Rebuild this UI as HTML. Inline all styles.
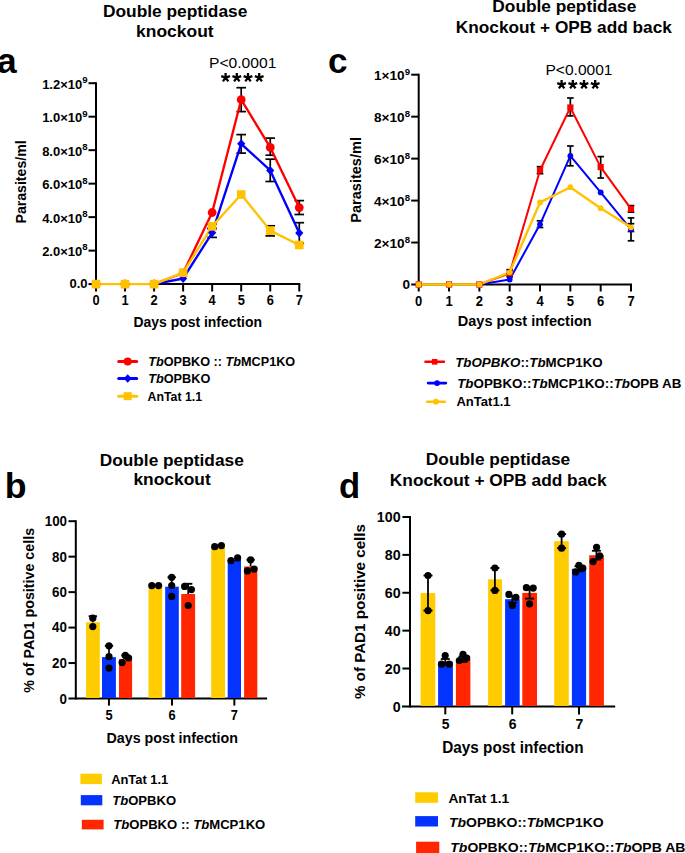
<!DOCTYPE html>
<html><head><meta charset="utf-8"><title>Figure</title>
<style>
html,body{margin:0;padding:0;background:#fff;}
body{width:685px;height:853px;overflow:hidden;}
svg{display:block;font-family:"Liberation Sans",sans-serif;}
</style></head>
<body>
<svg width="685" height="853" viewBox="0 0 685 853">
<rect width="685" height="853" fill="#fff"/>
<line x1="96.00" y1="82.20" x2="96.00" y2="285.10" stroke="#000" stroke-width="2" stroke-linecap="butt"/>
<line x1="95.00" y1="284.10" x2="300.28" y2="284.10" stroke="#000" stroke-width="2" stroke-linecap="butt"/>
<line x1="88.50" y1="284.10" x2="96.00" y2="284.10" stroke="#000" stroke-width="2" stroke-linecap="butt"/>
<line x1="88.50" y1="250.62" x2="96.00" y2="250.62" stroke="#000" stroke-width="2" stroke-linecap="butt"/>
<line x1="88.50" y1="217.13" x2="96.00" y2="217.13" stroke="#000" stroke-width="2" stroke-linecap="butt"/>
<line x1="88.50" y1="183.65" x2="96.00" y2="183.65" stroke="#000" stroke-width="2" stroke-linecap="butt"/>
<line x1="88.50" y1="150.17" x2="96.00" y2="150.17" stroke="#000" stroke-width="2" stroke-linecap="butt"/>
<line x1="88.50" y1="116.68" x2="96.00" y2="116.68" stroke="#000" stroke-width="2" stroke-linecap="butt"/>
<line x1="88.50" y1="83.20" x2="96.00" y2="83.20" stroke="#000" stroke-width="2" stroke-linecap="butt"/>
<line x1="96.00" y1="284.10" x2="96.00" y2="291.50" stroke="#000" stroke-width="2" stroke-linecap="butt"/>
<line x1="125.04" y1="284.10" x2="125.04" y2="291.50" stroke="#000" stroke-width="2" stroke-linecap="butt"/>
<line x1="154.08" y1="284.10" x2="154.08" y2="291.50" stroke="#000" stroke-width="2" stroke-linecap="butt"/>
<line x1="183.12" y1="284.10" x2="183.12" y2="291.50" stroke="#000" stroke-width="2" stroke-linecap="butt"/>
<line x1="212.16" y1="284.10" x2="212.16" y2="291.50" stroke="#000" stroke-width="2" stroke-linecap="butt"/>
<line x1="241.20" y1="284.10" x2="241.20" y2="291.50" stroke="#000" stroke-width="2" stroke-linecap="butt"/>
<line x1="270.24" y1="284.10" x2="270.24" y2="291.50" stroke="#000" stroke-width="2" stroke-linecap="butt"/>
<line x1="299.28" y1="284.10" x2="299.28" y2="291.50" stroke="#000" stroke-width="2" stroke-linecap="butt"/>
<text x="87.60" y="288.40" font-size="13" font-weight="bold" text-anchor="end" >0.0</text>
<text x="87.60" y="256.07" font-size="13" font-weight="bold" text-anchor="end" >2.0×10<tspan dy='-5.6' font-size='9.6'>8</tspan></text>
<text x="87.60" y="222.58" font-size="13" font-weight="bold" text-anchor="end" >4.0×10<tspan dy='-5.6' font-size='9.6'>8</tspan></text>
<text x="87.60" y="189.10" font-size="13" font-weight="bold" text-anchor="end" >6.0×10<tspan dy='-5.6' font-size='9.6'>8</tspan></text>
<text x="87.60" y="155.62" font-size="13" font-weight="bold" text-anchor="end" >8.0×10<tspan dy='-5.6' font-size='9.6'>8</tspan></text>
<text x="87.60" y="122.13" font-size="13" font-weight="bold" text-anchor="end" >1.0×10<tspan dy='-5.6' font-size='9.6'>9</tspan></text>
<text x="87.60" y="88.65" font-size="13" font-weight="bold" text-anchor="end" >1.2×10<tspan dy='-5.6' font-size='9.6'>9</tspan></text>
<text transform="translate(96.00,304.70) scale(0.93,1)" font-size="13.8" font-weight="bold" text-anchor="middle" >0</text>
<text transform="translate(125.04,304.70) scale(0.93,1)" font-size="13.8" font-weight="bold" text-anchor="middle" >1</text>
<text transform="translate(154.08,304.70) scale(0.93,1)" font-size="13.8" font-weight="bold" text-anchor="middle" >2</text>
<text transform="translate(183.12,304.70) scale(0.93,1)" font-size="13.8" font-weight="bold" text-anchor="middle" >3</text>
<text transform="translate(212.16,304.70) scale(0.93,1)" font-size="13.8" font-weight="bold" text-anchor="middle" >4</text>
<text transform="translate(241.20,304.70) scale(0.93,1)" font-size="13.8" font-weight="bold" text-anchor="middle" >5</text>
<text transform="translate(270.24,304.70) scale(0.93,1)" font-size="13.8" font-weight="bold" text-anchor="middle" >6</text>
<text transform="translate(299.28,304.70) scale(0.93,1)" font-size="13.8" font-weight="bold" text-anchor="middle" >7</text>
<text transform="translate(133.53,326.90) scale(0.9746,1)" font-size="14.3" font-weight="bold">Days post infection</text>
<text transform="translate(26.20,223.51) rotate(-90) scale(1.0087,1)" font-size="14" font-weight="bold">Parasites/ml</text>
<line x1="241.20" y1="87.70" x2="241.20" y2="111.60" stroke="#000" stroke-width="1.7" stroke-linecap="butt"/>
<line x1="236.40" y1="87.70" x2="246.00" y2="87.70" stroke="#000" stroke-width="1.7" stroke-linecap="butt"/>
<line x1="236.40" y1="111.60" x2="246.00" y2="111.60" stroke="#000" stroke-width="1.7" stroke-linecap="butt"/>
<line x1="270.24" y1="138.10" x2="270.24" y2="155.20" stroke="#000" stroke-width="1.7" stroke-linecap="butt"/>
<line x1="265.44" y1="138.10" x2="275.04" y2="138.10" stroke="#000" stroke-width="1.7" stroke-linecap="butt"/>
<line x1="265.44" y1="155.20" x2="275.04" y2="155.20" stroke="#000" stroke-width="1.7" stroke-linecap="butt"/>
<line x1="299.28" y1="200.60" x2="299.28" y2="214.50" stroke="#000" stroke-width="1.7" stroke-linecap="butt"/>
<line x1="294.48" y1="200.60" x2="304.08" y2="200.60" stroke="#000" stroke-width="1.7" stroke-linecap="butt"/>
<line x1="294.48" y1="214.50" x2="304.08" y2="214.50" stroke="#000" stroke-width="1.7" stroke-linecap="butt"/>
<line x1="241.20" y1="134.60" x2="241.20" y2="153.10" stroke="#000" stroke-width="1.7" stroke-linecap="butt"/>
<line x1="236.40" y1="134.60" x2="246.00" y2="134.60" stroke="#000" stroke-width="1.7" stroke-linecap="butt"/>
<line x1="236.40" y1="153.10" x2="246.00" y2="153.10" stroke="#000" stroke-width="1.7" stroke-linecap="butt"/>
<line x1="270.24" y1="159.20" x2="270.24" y2="181.50" stroke="#000" stroke-width="1.7" stroke-linecap="butt"/>
<line x1="265.44" y1="159.20" x2="275.04" y2="159.20" stroke="#000" stroke-width="1.7" stroke-linecap="butt"/>
<line x1="265.44" y1="181.50" x2="275.04" y2="181.50" stroke="#000" stroke-width="1.7" stroke-linecap="butt"/>
<line x1="299.28" y1="222.70" x2="299.28" y2="243.40" stroke="#000" stroke-width="1.7" stroke-linecap="butt"/>
<line x1="294.48" y1="222.70" x2="304.08" y2="222.70" stroke="#000" stroke-width="1.7" stroke-linecap="butt"/>
<line x1="294.48" y1="243.40" x2="304.08" y2="243.40" stroke="#000" stroke-width="1.7" stroke-linecap="butt"/>
<line x1="212.16" y1="228.20" x2="212.16" y2="237.40" stroke="#000" stroke-width="1.7" stroke-linecap="butt"/>
<line x1="207.36" y1="228.20" x2="216.96" y2="228.20" stroke="#000" stroke-width="1.7" stroke-linecap="butt"/>
<line x1="207.36" y1="237.40" x2="216.96" y2="237.40" stroke="#000" stroke-width="1.7" stroke-linecap="butt"/>
<line x1="270.24" y1="225.80" x2="270.24" y2="235.90" stroke="#000" stroke-width="1.7" stroke-linecap="butt"/>
<line x1="265.44" y1="225.80" x2="275.04" y2="225.80" stroke="#000" stroke-width="1.7" stroke-linecap="butt"/>
<line x1="265.44" y1="235.90" x2="275.04" y2="235.90" stroke="#000" stroke-width="1.7" stroke-linecap="butt"/>
<line x1="212.16" y1="224.00" x2="212.16" y2="228.90" stroke="#000" stroke-width="1.7" stroke-linecap="butt"/>
<line x1="207.36" y1="224.00" x2="216.96" y2="224.00" stroke="#000" stroke-width="1.7" stroke-linecap="butt"/>
<line x1="207.36" y1="228.90" x2="216.96" y2="228.90" stroke="#000" stroke-width="1.7" stroke-linecap="butt"/>
<polyline points="154.08,284.10 183.12,278.50 212.16,232.80 241.20,143.80 270.24,170.40 299.28,233.00" fill="none" stroke="#0000ff" stroke-width="2.35" stroke-linejoin="round"/>
<polyline points="154.08,284.10 183.12,273.00 212.16,212.50 241.20,99.70 270.24,147.40 299.28,207.60" fill="none" stroke="#ff0000" stroke-width="2.35" stroke-linejoin="round"/>
<polyline points="96.00,284.10 125.04,284.10 154.08,284.10 183.12,272.70 212.16,226.40 241.20,194.50 270.24,230.60 299.28,245.00" fill="none" stroke="#ffc200" stroke-width="2.35" stroke-linejoin="round"/>
<polygon points="96.00,279.60 100.10,284.10 96.00,288.60 91.90,284.10" fill="#0000ff"/>
<polygon points="125.04,279.60 129.14,284.10 125.04,288.60 120.94,284.10" fill="#0000ff"/>
<polygon points="154.08,279.60 158.18,284.10 154.08,288.60 149.98,284.10" fill="#0000ff"/>
<polygon points="183.12,274.00 187.22,278.50 183.12,283.00 179.02,278.50" fill="#0000ff"/>
<polygon points="212.16,228.30 216.26,232.80 212.16,237.30 208.06,232.80" fill="#0000ff"/>
<polygon points="241.20,139.30 245.30,143.80 241.20,148.30 237.10,143.80" fill="#0000ff"/>
<polygon points="270.24,165.90 274.34,170.40 270.24,174.90 266.14,170.40" fill="#0000ff"/>
<polygon points="299.28,228.50 303.38,233.00 299.28,237.50 295.18,233.00" fill="#0000ff"/>
<circle cx="96.00" cy="284.10" r="4.4" fill="#ff0000"/>
<circle cx="125.04" cy="284.10" r="4.4" fill="#ff0000"/>
<circle cx="154.08" cy="284.10" r="4.4" fill="#ff0000"/>
<circle cx="183.12" cy="273.00" r="4.4" fill="#ff0000"/>
<circle cx="212.16" cy="212.50" r="4.4" fill="#ff0000"/>
<circle cx="241.20" cy="99.70" r="4.4" fill="#ff0000"/>
<circle cx="270.24" cy="147.40" r="4.4" fill="#ff0000"/>
<circle cx="299.28" cy="207.60" r="4.4" fill="#ff0000"/>
<rect x="91.70" y="279.80" width="8.6" height="8.6" fill="#ffc200"/>
<rect x="120.74" y="279.80" width="8.6" height="8.6" fill="#ffc200"/>
<rect x="149.78" y="279.80" width="8.6" height="8.6" fill="#ffc200"/>
<rect x="178.82" y="268.40" width="8.6" height="8.6" fill="#ffc200"/>
<rect x="207.86" y="222.10" width="8.6" height="8.6" fill="#ffc200"/>
<rect x="236.90" y="190.20" width="8.6" height="8.6" fill="#ffc200"/>
<rect x="265.94" y="226.30" width="8.6" height="8.6" fill="#ffc200"/>
<rect x="294.98" y="240.70" width="8.6" height="8.6" fill="#ffc200"/>
<text transform="translate(208.96,68.20) scale(1.0721,1)" font-size="14.6" font-weight="normal">P&lt;0.0001</text>
<path d="M225.60,77.60L225.60,73.00 M225.60,77.60L221.23,76.18 M225.60,77.60L222.90,81.32 M225.60,77.60L228.30,81.32 M225.60,77.60L229.97,76.18 M236.80,77.60L236.80,73.00 M236.80,77.60L232.43,76.18 M236.80,77.60L234.10,81.32 M236.80,77.60L239.50,81.32 M236.80,77.60L241.17,76.18 M248.00,77.60L248.00,73.00 M248.00,77.60L243.63,76.18 M248.00,77.60L245.30,81.32 M248.00,77.60L250.70,81.32 M248.00,77.60L252.37,76.18 M259.20,77.60L259.20,73.00 M259.20,77.60L254.83,76.18 M259.20,77.60L256.50,81.32 M259.20,77.60L261.90,81.32 M259.20,77.60L263.57,76.18" stroke="#000" stroke-width="2.3" fill="none" stroke-linecap="butt"/>
<line x1="118.70" y1="361.40" x2="136.70" y2="361.40" stroke="#ff0000" stroke-width="3" stroke-linecap="round"/>
<circle cx="127.70" cy="361.40" r="4.0" fill="#ff0000"/>
<line x1="118.70" y1="378.50" x2="136.70" y2="378.50" stroke="#0000ff" stroke-width="3" stroke-linecap="round"/>
<polygon points="127.70,374.20 131.70,378.50 127.70,382.80 123.70,378.50" fill="#0000ff"/>
<line x1="118.70" y1="396.20" x2="136.70" y2="396.20" stroke="#ffc200" stroke-width="3" stroke-linecap="round"/>
<rect x="123.70" y="392.20" width="8" height="8" fill="#ffc200"/>
<text transform="translate(148.23,365.80) scale(0.9973,1)" font-size="12.7" font-weight="bold"><tspan font-style='italic'>Tb</tspan>OPBKO :: <tspan font-style='italic'>Tb</tspan>MCP1KO</text>
<text transform="translate(148.22,382.50) scale(1.0012,1)" font-size="12.7" font-weight="bold"><tspan font-style='italic'>Tb</tspan>OPBKO</text>
<text transform="translate(147.54,401.20) scale(0.9694,1)" font-size="12.7" font-weight="bold">AnTat 1.1</text>
<text transform="translate(102.95,17.05) scale(1.0200,1)" font-size="17" font-weight="bold">Double peptidase</text>
<text transform="translate(136.02,37.20) scale(1.0280,1)" font-size="17" font-weight="bold">knockout</text>
<text transform="translate(-3.00,73.05) scale(1.0013,1)" font-size="35.3" font-weight="bold">a</text>
<line x1="418.70" y1="73.70" x2="418.70" y2="285.50" stroke="#000" stroke-width="2" stroke-linecap="butt"/>
<line x1="417.70" y1="284.50" x2="632.01" y2="284.50" stroke="#000" stroke-width="2" stroke-linecap="butt"/>
<line x1="411.20" y1="284.50" x2="418.70" y2="284.50" stroke="#000" stroke-width="2" stroke-linecap="butt"/>
<line x1="411.20" y1="242.54" x2="418.70" y2="242.54" stroke="#000" stroke-width="2" stroke-linecap="butt"/>
<line x1="411.20" y1="200.58" x2="418.70" y2="200.58" stroke="#000" stroke-width="2" stroke-linecap="butt"/>
<line x1="411.20" y1="158.62" x2="418.70" y2="158.62" stroke="#000" stroke-width="2" stroke-linecap="butt"/>
<line x1="411.20" y1="116.66" x2="418.70" y2="116.66" stroke="#000" stroke-width="2" stroke-linecap="butt"/>
<line x1="411.20" y1="74.70" x2="418.70" y2="74.70" stroke="#000" stroke-width="2" stroke-linecap="butt"/>
<line x1="418.70" y1="284.50" x2="418.70" y2="291.50" stroke="#000" stroke-width="2" stroke-linecap="butt"/>
<line x1="449.03" y1="284.50" x2="449.03" y2="291.50" stroke="#000" stroke-width="2" stroke-linecap="butt"/>
<line x1="479.36" y1="284.50" x2="479.36" y2="291.50" stroke="#000" stroke-width="2" stroke-linecap="butt"/>
<line x1="509.69" y1="284.50" x2="509.69" y2="291.50" stroke="#000" stroke-width="2" stroke-linecap="butt"/>
<line x1="540.02" y1="284.50" x2="540.02" y2="291.50" stroke="#000" stroke-width="2" stroke-linecap="butt"/>
<line x1="570.35" y1="284.50" x2="570.35" y2="291.50" stroke="#000" stroke-width="2" stroke-linecap="butt"/>
<line x1="600.68" y1="284.50" x2="600.68" y2="291.50" stroke="#000" stroke-width="2" stroke-linecap="butt"/>
<line x1="631.01" y1="284.50" x2="631.01" y2="291.50" stroke="#000" stroke-width="2" stroke-linecap="butt"/>
<text x="410.00" y="289.10" font-size="13.6" font-weight="bold" text-anchor="end" >0</text>
<text x="410.00" y="248.14" font-size="13.6" font-weight="bold" text-anchor="end" >2×10<tspan dy='-5.6' font-size='9.6'>8</tspan></text>
<text x="410.00" y="206.18" font-size="13.6" font-weight="bold" text-anchor="end" >4×10<tspan dy='-5.6' font-size='9.6'>8</tspan></text>
<text x="410.00" y="164.22" font-size="13.6" font-weight="bold" text-anchor="end" >6×10<tspan dy='-5.6' font-size='9.6'>8</tspan></text>
<text x="410.00" y="122.26" font-size="13.6" font-weight="bold" text-anchor="end" >8×10<tspan dy='-5.6' font-size='9.6'>8</tspan></text>
<text x="410.00" y="80.30" font-size="13.6" font-weight="bold" text-anchor="end" >1×10<tspan dy='-5.6' font-size='9.6'>9</tspan></text>
<text transform="translate(418.70,305.80) scale(0.93,1)" font-size="14" font-weight="bold" text-anchor="middle" >0</text>
<text transform="translate(449.03,305.80) scale(0.93,1)" font-size="14" font-weight="bold" text-anchor="middle" >1</text>
<text transform="translate(479.36,305.80) scale(0.93,1)" font-size="14" font-weight="bold" text-anchor="middle" >2</text>
<text transform="translate(509.69,305.80) scale(0.93,1)" font-size="14" font-weight="bold" text-anchor="middle" >3</text>
<text transform="translate(540.02,305.80) scale(0.93,1)" font-size="14" font-weight="bold" text-anchor="middle" >4</text>
<text transform="translate(570.35,305.80) scale(0.93,1)" font-size="14" font-weight="bold" text-anchor="middle" >5</text>
<text transform="translate(600.68,305.80) scale(0.93,1)" font-size="14" font-weight="bold" text-anchor="middle" >6</text>
<text transform="translate(631.01,305.80) scale(0.93,1)" font-size="14" font-weight="bold" text-anchor="middle" >7</text>
<text transform="translate(457.78,326.20) scale(1.0154,1)" font-size="14.3" font-weight="bold">Days post infection</text>
<text transform="translate(361.30,222.74) rotate(-90) scale(1.0398,1)" font-size="14" font-weight="bold">Parasites/ml</text>
<line x1="509.69" y1="269.70" x2="509.69" y2="276.90" stroke="#000" stroke-width="1.7" stroke-linecap="butt"/>
<line x1="506.39" y1="269.70" x2="512.99" y2="269.70" stroke="#000" stroke-width="1.7" stroke-linecap="butt"/>
<line x1="506.39" y1="276.90" x2="512.99" y2="276.90" stroke="#000" stroke-width="1.7" stroke-linecap="butt"/>
<line x1="540.02" y1="166.70" x2="540.02" y2="173.70" stroke="#000" stroke-width="1.7" stroke-linecap="butt"/>
<line x1="536.72" y1="166.70" x2="543.32" y2="166.70" stroke="#000" stroke-width="1.7" stroke-linecap="butt"/>
<line x1="536.72" y1="173.70" x2="543.32" y2="173.70" stroke="#000" stroke-width="1.7" stroke-linecap="butt"/>
<line x1="570.35" y1="98.00" x2="570.35" y2="115.90" stroke="#000" stroke-width="1.7" stroke-linecap="butt"/>
<line x1="567.05" y1="98.00" x2="573.65" y2="98.00" stroke="#000" stroke-width="1.7" stroke-linecap="butt"/>
<line x1="567.05" y1="115.90" x2="573.65" y2="115.90" stroke="#000" stroke-width="1.7" stroke-linecap="butt"/>
<line x1="600.68" y1="156.60" x2="600.68" y2="178.00" stroke="#000" stroke-width="1.7" stroke-linecap="butt"/>
<line x1="597.38" y1="156.60" x2="603.98" y2="156.60" stroke="#000" stroke-width="1.7" stroke-linecap="butt"/>
<line x1="597.38" y1="178.00" x2="603.98" y2="178.00" stroke="#000" stroke-width="1.7" stroke-linecap="butt"/>
<line x1="631.01" y1="205.60" x2="631.01" y2="212.10" stroke="#000" stroke-width="1.7" stroke-linecap="butt"/>
<line x1="627.71" y1="205.60" x2="634.31" y2="205.60" stroke="#000" stroke-width="1.7" stroke-linecap="butt"/>
<line x1="627.71" y1="212.10" x2="634.31" y2="212.10" stroke="#000" stroke-width="1.7" stroke-linecap="butt"/>
<line x1="540.02" y1="220.80" x2="540.02" y2="227.50" stroke="#000" stroke-width="1.7" stroke-linecap="butt"/>
<line x1="536.72" y1="220.80" x2="543.32" y2="220.80" stroke="#000" stroke-width="1.7" stroke-linecap="butt"/>
<line x1="536.72" y1="227.50" x2="543.32" y2="227.50" stroke="#000" stroke-width="1.7" stroke-linecap="butt"/>
<line x1="570.35" y1="146.00" x2="570.35" y2="165.80" stroke="#000" stroke-width="1.7" stroke-linecap="butt"/>
<line x1="567.05" y1="146.00" x2="573.65" y2="146.00" stroke="#000" stroke-width="1.7" stroke-linecap="butt"/>
<line x1="567.05" y1="165.80" x2="573.65" y2="165.80" stroke="#000" stroke-width="1.7" stroke-linecap="butt"/>
<line x1="631.01" y1="217.90" x2="631.01" y2="240.80" stroke="#000" stroke-width="1.7" stroke-linecap="butt"/>
<line x1="627.71" y1="217.90" x2="634.31" y2="217.90" stroke="#000" stroke-width="1.7" stroke-linecap="butt"/>
<line x1="627.71" y1="240.80" x2="634.31" y2="240.80" stroke="#000" stroke-width="1.7" stroke-linecap="butt"/>
<line x1="631.01" y1="223.70" x2="631.01" y2="231.50" stroke="#000" stroke-width="1.7" stroke-linecap="butt"/>
<line x1="627.71" y1="223.70" x2="634.31" y2="223.70" stroke="#000" stroke-width="1.7" stroke-linecap="butt"/>
<line x1="627.71" y1="231.50" x2="634.31" y2="231.50" stroke="#000" stroke-width="1.7" stroke-linecap="butt"/>
<polyline points="479.36,284.50 509.69,279.50 540.02,224.30 570.35,155.90 600.68,192.40 631.01,229.30" fill="none" stroke="#0000ff" stroke-width="2.0" stroke-linejoin="round"/>
<polyline points="479.36,284.50 509.69,273.20 540.02,170.20 570.35,107.50 600.68,167.10 631.01,208.90" fill="none" stroke="#ff0000" stroke-width="2.0" stroke-linejoin="round"/>
<polyline points="418.70,284.50 449.03,284.50 479.36,284.50 509.69,272.30 540.02,202.40 570.35,187.20 600.68,208.20 631.01,227.30" fill="none" stroke="#ffc200" stroke-width="2.4" stroke-linejoin="round"/>
<circle cx="418.70" cy="284.50" r="2.9" fill="#0000ff"/>
<circle cx="449.03" cy="284.50" r="2.9" fill="#0000ff"/>
<circle cx="479.36" cy="284.50" r="2.9" fill="#0000ff"/>
<circle cx="509.69" cy="279.50" r="2.9" fill="#0000ff"/>
<circle cx="540.02" cy="224.30" r="2.9" fill="#0000ff"/>
<circle cx="570.35" cy="155.90" r="2.9" fill="#0000ff"/>
<circle cx="600.68" cy="192.40" r="2.9" fill="#0000ff"/>
<circle cx="631.01" cy="229.30" r="2.9" fill="#0000ff"/>
<rect x="415.60" y="281.40" width="6.2" height="6.2" fill="#ff0000"/>
<rect x="445.93" y="281.40" width="6.2" height="6.2" fill="#ff0000"/>
<rect x="476.26" y="281.40" width="6.2" height="6.2" fill="#ff0000"/>
<rect x="506.59" y="270.10" width="6.2" height="6.2" fill="#ff0000"/>
<rect x="536.92" y="167.10" width="6.2" height="6.2" fill="#ff0000"/>
<rect x="567.25" y="104.40" width="6.2" height="6.2" fill="#ff0000"/>
<rect x="597.58" y="164.00" width="6.2" height="6.2" fill="#ff0000"/>
<rect x="627.91" y="205.80" width="6.2" height="6.2" fill="#ff0000"/>
<circle cx="418.70" cy="284.50" r="2.9" fill="#ffc200"/>
<circle cx="449.03" cy="284.50" r="2.9" fill="#ffc200"/>
<circle cx="479.36" cy="284.50" r="2.9" fill="#ffc200"/>
<circle cx="509.69" cy="272.30" r="2.9" fill="#ffc200"/>
<circle cx="540.02" cy="202.40" r="2.9" fill="#ffc200"/>
<circle cx="570.35" cy="187.20" r="2.9" fill="#ffc200"/>
<circle cx="600.68" cy="208.20" r="2.9" fill="#ffc200"/>
<circle cx="631.01" cy="227.30" r="2.9" fill="#ffc200"/>
<text transform="translate(545.47,75.10) scale(1.0672,1)" font-size="14.6" font-weight="normal">P&lt;0.0001</text>
<path d="M561.60,84.60L561.60,80.00 M561.60,84.60L557.23,83.18 M561.60,84.60L558.90,88.32 M561.60,84.60L564.30,88.32 M561.60,84.60L565.97,83.18 M572.80,84.60L572.80,80.00 M572.80,84.60L568.43,83.18 M572.80,84.60L570.10,88.32 M572.80,84.60L575.50,88.32 M572.80,84.60L577.17,83.18 M584.00,84.60L584.00,80.00 M584.00,84.60L579.63,83.18 M584.00,84.60L581.30,88.32 M584.00,84.60L586.70,88.32 M584.00,84.60L588.37,83.18 M595.20,84.60L595.20,80.00 M595.20,84.60L590.83,83.18 M595.20,84.60L592.50,88.32 M595.20,84.60L597.90,88.32 M595.20,84.60L599.57,83.18" stroke="#000" stroke-width="2.3" fill="none" stroke-linecap="butt"/>
<line x1="425.50" y1="361.80" x2="443.90" y2="361.80" stroke="#ff0000" stroke-width="2.6" stroke-linecap="round"/>
<rect x="431.90" y="359.00" width="5.6" height="5.6" fill="#ff0000"/>
<line x1="428.10" y1="383.10" x2="445.90" y2="383.10" stroke="#0000ff" stroke-width="2.6" stroke-linecap="round"/>
<circle cx="437.10" cy="383.10" r="2.9" fill="#0000ff"/>
<line x1="427.10" y1="401.70" x2="444.80" y2="401.70" stroke="#ffc200" stroke-width="2.6" stroke-linecap="round"/>
<circle cx="435.80" cy="401.70" r="2.9" fill="#ffc200"/>
<text transform="translate(455.18,366.60) scale(1.0192,1)" font-size="13.1" font-weight="bold"><tspan font-style='italic'>TbOPBKO</tspan>::<tspan font-style='italic'>Tb</tspan>MCP1KO</text>
<text transform="translate(457.18,387.60) scale(1.0198,1)" font-size="13.1" font-weight="bold"><tspan font-style='italic'>Tb</tspan>OPBKO::<tspan font-style='italic'>Tb</tspan>MCP1KO::<tspan font-style='italic'>Tb</tspan>OPB AB</text>
<text transform="translate(456.43,406.30) scale(0.9958,1)" font-size="13.1" font-weight="bold">AnTat1.1</text>
<text transform="translate(492.36,12.00) scale(1.0171,1)" font-size="17" font-weight="bold">Double peptidase</text>
<text transform="translate(455.86,32.70) scale(1.0147,1)" font-size="17" font-weight="bold">Knockout + OPB add back</text>
<text transform="translate(328.03,72.85) scale(0.9985,1)" font-size="35.2" font-weight="bold">c</text>
<line x1="75.80" y1="520.20" x2="75.80" y2="699.50" stroke="#000" stroke-width="2" stroke-linecap="butt"/>
<line x1="68.50" y1="698.50" x2="267.10" y2="698.50" stroke="#000" stroke-width="2" stroke-linecap="butt"/>
<line x1="68.50" y1="663.04" x2="75.80" y2="663.04" stroke="#000" stroke-width="2" stroke-linecap="butt"/>
<line x1="68.50" y1="627.58" x2="75.80" y2="627.58" stroke="#000" stroke-width="2" stroke-linecap="butt"/>
<line x1="68.50" y1="592.12" x2="75.80" y2="592.12" stroke="#000" stroke-width="2" stroke-linecap="butt"/>
<line x1="68.50" y1="556.66" x2="75.80" y2="556.66" stroke="#000" stroke-width="2" stroke-linecap="butt"/>
<line x1="68.50" y1="521.20" x2="75.80" y2="521.20" stroke="#000" stroke-width="2" stroke-linecap="butt"/>
<text transform="translate(67.00,703.80) scale(0.97,1)" font-size="13.8" font-weight="bold" text-anchor="end" >0</text>
<text transform="translate(67.00,667.94) scale(0.97,1)" font-size="13.8" font-weight="bold" text-anchor="end" >20</text>
<text transform="translate(67.00,632.48) scale(0.97,1)" font-size="13.8" font-weight="bold" text-anchor="end" >40</text>
<text transform="translate(67.00,597.02) scale(0.97,1)" font-size="13.8" font-weight="bold" text-anchor="end" >60</text>
<text transform="translate(67.00,561.56) scale(0.97,1)" font-size="13.8" font-weight="bold" text-anchor="end" >80</text>
<text transform="translate(67.00,526.10) scale(0.97,1)" font-size="13.8" font-weight="bold" text-anchor="end" >100</text>
<rect x="86.10" y="622.30" width="13.70" height="75.70" fill="#ffcc00"/>
<rect x="102.00" y="657.10" width="13.90" height="40.90" fill="#0433ff"/>
<rect x="119.00" y="659.10" width="13.10" height="38.90" fill="#ff2600"/>
<rect x="148.50" y="586.00" width="13.70" height="112.00" fill="#ffcc00"/>
<rect x="165.20" y="586.70" width="13.60" height="111.30" fill="#0433ff"/>
<rect x="181.20" y="594.00" width="13.90" height="104.00" fill="#ff2600"/>
<rect x="211.20" y="546.80" width="13.80" height="151.20" fill="#ffcc00"/>
<rect x="227.70" y="560.00" width="13.30" height="138.00" fill="#0433ff"/>
<rect x="244.10" y="566.50" width="13.20" height="131.50" fill="#ff2600"/>
<line x1="108.95" y1="698.50" x2="108.95" y2="705.60" stroke="#000" stroke-width="2" stroke-linecap="butt"/>
<text transform="translate(108.95,719.90) scale(0.93,1)" font-size="13.8" font-weight="bold" text-anchor="middle" >5</text>
<line x1="172.00" y1="698.50" x2="172.00" y2="705.60" stroke="#000" stroke-width="2" stroke-linecap="butt"/>
<text transform="translate(172.00,719.90) scale(0.93,1)" font-size="13.8" font-weight="bold" text-anchor="middle" >6</text>
<line x1="234.35" y1="698.50" x2="234.35" y2="705.60" stroke="#000" stroke-width="2" stroke-linecap="butt"/>
<text transform="translate(234.35,719.90) scale(0.93,1)" font-size="13.8" font-weight="bold" text-anchor="middle" >7</text>
<text transform="translate(106.50,742.50) scale(0.9985,1)" font-size="14.3" font-weight="bold">Days post infection</text>
<text transform="translate(33.50,692.68) rotate(-90) scale(1.0133,1)" font-size="14.1" font-weight="bold">% of PAD1 positive cells</text>
<line x1="92.80" y1="622.30" x2="92.80" y2="616.20" stroke="#000" stroke-width="1.7" stroke-linecap="butt"/>
<line x1="88.65" y1="616.20" x2="96.95" y2="616.20" stroke="#000" stroke-width="1.9" stroke-linecap="butt"/>
<line x1="109.00" y1="657.10" x2="109.00" y2="645.80" stroke="#000" stroke-width="1.7" stroke-linecap="butt"/>
<line x1="104.85" y1="645.80" x2="113.15" y2="645.80" stroke="#000" stroke-width="1.9" stroke-linecap="butt"/>
<line x1="125.40" y1="659.10" x2="125.40" y2="655.40" stroke="#000" stroke-width="1.7" stroke-linecap="butt"/>
<line x1="121.25" y1="655.40" x2="129.55" y2="655.40" stroke="#000" stroke-width="1.9" stroke-linecap="butt"/>
<line x1="171.70" y1="586.70" x2="171.70" y2="577.30" stroke="#000" stroke-width="1.7" stroke-linecap="butt"/>
<line x1="167.55" y1="577.30" x2="175.85" y2="577.30" stroke="#000" stroke-width="1.9" stroke-linecap="butt"/>
<line x1="188.20" y1="594.00" x2="188.20" y2="583.80" stroke="#000" stroke-width="1.7" stroke-linecap="butt"/>
<line x1="184.05" y1="583.80" x2="192.35" y2="583.80" stroke="#000" stroke-width="1.9" stroke-linecap="butt"/>
<line x1="250.60" y1="566.50" x2="250.60" y2="559.80" stroke="#000" stroke-width="1.7" stroke-linecap="butt"/>
<line x1="246.45" y1="559.80" x2="254.75" y2="559.80" stroke="#000" stroke-width="1.9" stroke-linecap="butt"/>
<circle cx="92.80" cy="618.20" r="3.6" fill="#000"/>
<circle cx="92.80" cy="626.60" r="3.6" fill="#000"/>
<circle cx="109.00" cy="645.80" r="3.6" fill="#000"/>
<circle cx="109.00" cy="656.70" r="3.6" fill="#000"/>
<circle cx="109.00" cy="668.10" r="3.6" fill="#000"/>
<circle cx="122.10" cy="662.60" r="3.6" fill="#000"/>
<circle cx="125.30" cy="655.40" r="3.6" fill="#000"/>
<circle cx="128.60" cy="658.00" r="3.6" fill="#000"/>
<circle cx="151.80" cy="585.60" r="3.6" fill="#000"/>
<circle cx="158.60" cy="585.60" r="3.6" fill="#000"/>
<circle cx="171.70" cy="577.30" r="3.6" fill="#000"/>
<circle cx="171.70" cy="585.50" r="3.6" fill="#000"/>
<circle cx="171.70" cy="596.40" r="3.6" fill="#000"/>
<circle cx="184.60" cy="586.40" r="3.6" fill="#000"/>
<circle cx="191.40" cy="589.60" r="3.6" fill="#000"/>
<circle cx="188.20" cy="605.50" r="3.6" fill="#000"/>
<circle cx="214.70" cy="546.70" r="3.6" fill="#000"/>
<circle cx="221.40" cy="545.60" r="3.6" fill="#000"/>
<circle cx="231.00" cy="560.60" r="3.6" fill="#000"/>
<circle cx="237.60" cy="557.90" r="3.6" fill="#000"/>
<circle cx="250.60" cy="559.80" r="3.6" fill="#000"/>
<circle cx="247.40" cy="570.90" r="3.6" fill="#000"/>
<circle cx="254.10" cy="569.10" r="3.6" fill="#000"/>
<rect x="80.4" y="773.7" width="21.5" height="10.4" fill="#ffcc00"/>
<rect x="80.8" y="795.1" width="21.5" height="10.2" fill="#0433ff"/>
<rect x="81.8" y="819.8" width="21.8" height="9.6" fill="#ff2600"/>
<text transform="translate(111.13,784.00) scale(0.9869,1)" font-size="13.1" font-weight="bold">AnTat 1.1</text>
<text transform="translate(112.20,804.90) scale(0.9984,1)" font-size="13.1" font-weight="bold"><tspan font-style='italic'>Tb</tspan>OPBKO</text>
<text transform="translate(113.20,828.60) scale(1.0007,1)" font-size="13.1" font-weight="bold"><tspan font-style='italic'>Tb</tspan>OPBKO :: <tspan font-style='italic'>Tb</tspan>MCP1KO</text>
<text transform="translate(99.65,465.60) scale(1.0179,1)" font-size="17" font-weight="bold">Double peptidase</text>
<text transform="translate(133.42,485.20) scale(1.0239,1)" font-size="17" font-weight="bold">knockout</text>
<text transform="translate(4.65,498.35) scale(1.0435,1)" font-size="34.2" font-weight="bold">b</text>
<line x1="410.00" y1="516.00" x2="410.00" y2="707.40" stroke="#000" stroke-width="2" stroke-linecap="butt"/>
<line x1="402.00" y1="706.40" x2="615.20" y2="706.40" stroke="#000" stroke-width="2" stroke-linecap="butt"/>
<line x1="402.40" y1="668.52" x2="410.00" y2="668.52" stroke="#000" stroke-width="2" stroke-linecap="butt"/>
<line x1="402.40" y1="630.64" x2="410.00" y2="630.64" stroke="#000" stroke-width="2" stroke-linecap="butt"/>
<line x1="402.40" y1="592.76" x2="410.00" y2="592.76" stroke="#000" stroke-width="2" stroke-linecap="butt"/>
<line x1="402.40" y1="554.88" x2="410.00" y2="554.88" stroke="#000" stroke-width="2" stroke-linecap="butt"/>
<line x1="402.40" y1="517.00" x2="410.00" y2="517.00" stroke="#000" stroke-width="2" stroke-linecap="butt"/>
<text transform="translate(400.60,711.80) scale(0.95,1)" font-size="15" font-weight="bold" text-anchor="end" >0</text>
<text transform="translate(400.60,673.92) scale(0.95,1)" font-size="15" font-weight="bold" text-anchor="end" >20</text>
<text transform="translate(400.60,636.04) scale(0.95,1)" font-size="15" font-weight="bold" text-anchor="end" >40</text>
<text transform="translate(400.60,598.16) scale(0.95,1)" font-size="15" font-weight="bold" text-anchor="end" >60</text>
<text transform="translate(400.60,560.28) scale(0.95,1)" font-size="15" font-weight="bold" text-anchor="end" >80</text>
<text transform="translate(400.60,522.40) scale(0.95,1)" font-size="15" font-weight="bold" text-anchor="end" >100</text>
<rect x="420.60" y="593.10" width="14.70" height="112.80" fill="#ffcc00"/>
<rect x="438.10" y="661.70" width="14.80" height="44.20" fill="#0433ff"/>
<rect x="455.90" y="659.20" width="14.50" height="46.70" fill="#ff2600"/>
<rect x="488.10" y="579.30" width="13.90" height="126.60" fill="#ffcc00"/>
<rect x="505.10" y="599.20" width="14.60" height="106.70" fill="#0433ff"/>
<rect x="522.30" y="592.90" width="14.70" height="113.00" fill="#ff2600"/>
<rect x="554.20" y="541.20" width="14.60" height="164.70" fill="#ffcc00"/>
<rect x="571.90" y="568.80" width="14.20" height="137.10" fill="#0433ff"/>
<rect x="589.20" y="555.20" width="14.70" height="150.70" fill="#ff2600"/>
<line x1="445.30" y1="706.40" x2="445.30" y2="714.40" stroke="#000" stroke-width="2" stroke-linecap="butt"/>
<text transform="translate(445.70,728.90) scale(0.93,1)" font-size="15" font-weight="bold" text-anchor="middle" >5</text>
<line x1="512.20" y1="706.40" x2="512.20" y2="714.40" stroke="#000" stroke-width="2" stroke-linecap="butt"/>
<text transform="translate(512.60,728.90) scale(0.93,1)" font-size="15" font-weight="bold" text-anchor="middle" >6</text>
<line x1="579.00" y1="706.40" x2="579.00" y2="714.40" stroke="#000" stroke-width="2" stroke-linecap="butt"/>
<text transform="translate(579.40,728.90) scale(0.93,1)" font-size="15" font-weight="bold" text-anchor="middle" >7</text>
<text transform="translate(442.22,753.20) scale(0.9826,1)" font-size="15.6" font-weight="bold">Days post infection</text>
<text transform="translate(364.90,699.08) rotate(-90) scale(1.0121,1)" font-size="15" font-weight="bold">% of PAD1 positive cells</text>
<line x1="428.00" y1="575.50" x2="428.00" y2="610.60" stroke="#000" stroke-width="1.8" stroke-linecap="butt"/>
<line x1="423.50" y1="575.50" x2="432.50" y2="575.50" stroke="#000" stroke-width="1.8" stroke-linecap="butt"/>
<line x1="423.50" y1="610.60" x2="432.50" y2="610.60" stroke="#000" stroke-width="1.8" stroke-linecap="butt"/>
<line x1="445.30" y1="659.00" x2="445.30" y2="664.40" stroke="#000" stroke-width="1.8" stroke-linecap="butt"/>
<line x1="440.80" y1="659.00" x2="449.80" y2="659.00" stroke="#000" stroke-width="1.8" stroke-linecap="butt"/>
<line x1="440.80" y1="664.40" x2="449.80" y2="664.40" stroke="#000" stroke-width="1.8" stroke-linecap="butt"/>
<line x1="463.00" y1="656.50" x2="463.00" y2="661.90" stroke="#000" stroke-width="1.8" stroke-linecap="butt"/>
<line x1="458.50" y1="656.50" x2="467.50" y2="656.50" stroke="#000" stroke-width="1.8" stroke-linecap="butt"/>
<line x1="458.50" y1="661.90" x2="467.50" y2="661.90" stroke="#000" stroke-width="1.8" stroke-linecap="butt"/>
<line x1="494.90" y1="568.00" x2="494.90" y2="590.40" stroke="#000" stroke-width="1.8" stroke-linecap="butt"/>
<line x1="490.40" y1="568.00" x2="499.40" y2="568.00" stroke="#000" stroke-width="1.8" stroke-linecap="butt"/>
<line x1="490.40" y1="590.40" x2="499.40" y2="590.40" stroke="#000" stroke-width="1.8" stroke-linecap="butt"/>
<line x1="512.30" y1="596.00" x2="512.30" y2="602.60" stroke="#000" stroke-width="1.8" stroke-linecap="butt"/>
<line x1="507.80" y1="596.00" x2="516.80" y2="596.00" stroke="#000" stroke-width="1.8" stroke-linecap="butt"/>
<line x1="507.80" y1="602.60" x2="516.80" y2="602.60" stroke="#000" stroke-width="1.8" stroke-linecap="butt"/>
<line x1="529.60" y1="587.60" x2="529.60" y2="598.60" stroke="#000" stroke-width="1.8" stroke-linecap="butt"/>
<line x1="525.10" y1="587.60" x2="534.10" y2="587.60" stroke="#000" stroke-width="1.8" stroke-linecap="butt"/>
<line x1="525.10" y1="598.60" x2="534.10" y2="598.60" stroke="#000" stroke-width="1.8" stroke-linecap="butt"/>
<line x1="561.60" y1="534.20" x2="561.60" y2="548.20" stroke="#000" stroke-width="1.8" stroke-linecap="butt"/>
<line x1="557.10" y1="534.20" x2="566.10" y2="534.20" stroke="#000" stroke-width="1.8" stroke-linecap="butt"/>
<line x1="557.10" y1="548.20" x2="566.10" y2="548.20" stroke="#000" stroke-width="1.8" stroke-linecap="butt"/>
<line x1="579.00" y1="566.30" x2="579.00" y2="571.30" stroke="#000" stroke-width="1.8" stroke-linecap="butt"/>
<line x1="574.50" y1="566.30" x2="583.50" y2="566.30" stroke="#000" stroke-width="1.8" stroke-linecap="butt"/>
<line x1="574.50" y1="571.30" x2="583.50" y2="571.30" stroke="#000" stroke-width="1.8" stroke-linecap="butt"/>
<line x1="596.40" y1="550.80" x2="596.40" y2="559.60" stroke="#000" stroke-width="1.8" stroke-linecap="butt"/>
<line x1="591.90" y1="550.80" x2="600.90" y2="550.80" stroke="#000" stroke-width="1.8" stroke-linecap="butt"/>
<line x1="591.90" y1="559.60" x2="600.90" y2="559.60" stroke="#000" stroke-width="1.8" stroke-linecap="butt"/>
<circle cx="428.00" cy="575.50" r="3.6" fill="#000"/>
<circle cx="428.00" cy="610.60" r="3.6" fill="#000"/>
<circle cx="445.20" cy="655.60" r="3.6" fill="#000"/>
<circle cx="441.50" cy="664.20" r="3.6" fill="#000"/>
<circle cx="449.20" cy="664.20" r="3.6" fill="#000"/>
<circle cx="459.40" cy="660.50" r="3.6" fill="#000"/>
<circle cx="463.00" cy="654.30" r="3.6" fill="#000"/>
<circle cx="466.70" cy="658.00" r="3.6" fill="#000"/>
<circle cx="494.90" cy="568.00" r="3.6" fill="#000"/>
<circle cx="494.90" cy="590.40" r="3.6" fill="#000"/>
<circle cx="508.90" cy="594.40" r="3.6" fill="#000"/>
<circle cx="515.90" cy="597.30" r="3.6" fill="#000"/>
<circle cx="512.30" cy="605.40" r="3.6" fill="#000"/>
<circle cx="526.40" cy="587.70" r="3.6" fill="#000"/>
<circle cx="533.20" cy="588.10" r="3.6" fill="#000"/>
<circle cx="529.60" cy="603.80" r="3.6" fill="#000"/>
<circle cx="561.60" cy="534.20" r="3.6" fill="#000"/>
<circle cx="561.60" cy="548.20" r="3.6" fill="#000"/>
<circle cx="575.60" cy="571.90" r="3.6" fill="#000"/>
<circle cx="578.90" cy="565.30" r="3.6" fill="#000"/>
<circle cx="582.80" cy="568.20" r="3.6" fill="#000"/>
<circle cx="596.60" cy="547.30" r="3.6" fill="#000"/>
<circle cx="599.70" cy="555.80" r="3.6" fill="#000"/>
<circle cx="593.10" cy="561.60" r="3.6" fill="#000"/>
<rect x="415.2" y="792.3" width="22.8" height="10.5" fill="#ffcc00"/>
<rect x="415.2" y="816.1" width="22.8" height="10.4" fill="#0433ff"/>
<rect x="416.1" y="841.7" width="23.2" height="11.3" fill="#ff2600"/>
<text transform="translate(448.42,802.80) scale(1.0105,1)" font-size="13.6" font-weight="bold">AnTat 1.1</text>
<text transform="translate(448.97,826.50) scale(1.0299,1)" font-size="13.6" font-weight="bold"><tspan font-style='italic'>Tb</tspan>OPBKO::<tspan font-style='italic'>Tb</tspan>MCP1KO</text>
<text transform="translate(450.27,852.30) scale(1.0299,1)" font-size="13.6" font-weight="bold"><tspan font-style='italic'>Tb</tspan>OPBKO::<tspan font-style='italic'>Tb</tspan>MCP1KO::<tspan font-style='italic'>Tb</tspan>OPB AB</text>
<text transform="translate(425.85,465.10) scale(1.0193,1)" font-size="17" font-weight="bold">Double peptidase</text>
<text transform="translate(389.86,486.00) scale(1.0176,1)" font-size="17" font-weight="bold">Knockout + OPB add back</text>
<text transform="translate(339.11,498.35) scale(1.0145,1)" font-size="34.2" font-weight="bold">d</text>
</svg>
</body></html>
